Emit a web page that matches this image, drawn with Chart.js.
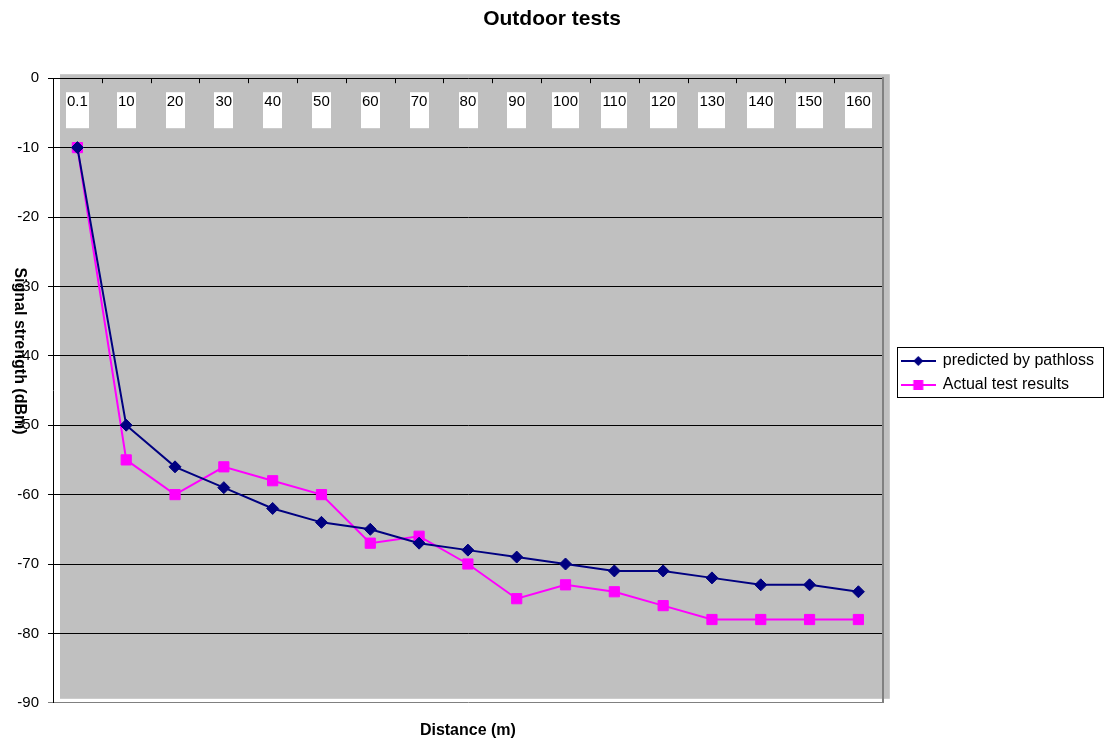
<!DOCTYPE html>
<html>
<head>
<meta charset="utf-8">
<title>Outdoor tests</title>
<script src="https://cdn.jsdelivr.net/npm/chart.js@4.4.1/dist/chart.umd.min.js"></script>
<style>
  html, body { margin: 0; padding: 0; background: #fff; }
  canvas { display: block; }
</style>
</head>
<body>
<canvas id="outdoorChart" width="1104" height="746"></canvas>
<script>
// distances in metres (category labels)
const distances = ["0.1", "10", "20", "30", "40", "50", "60", "70", "80", "90", "100", "110", "120", "130", "140", "150", "160"];
// signal strength in dBm
const predicted = [-10, -50, -56, -59, -62, -64, -65, -67, -68, -69, -70, -71, -71, -72, -73, -73, -74];
const actual = [-10, -55, -60, -56, -58, -60, -67, -66, -70, -75, -73, -74, -76, -78, -78, -78, -78];
const yTicks = { min: -90, max: 0, step: 10 };

const FONT = "'Liberation Sans', Arial, sans-serif";
const NAVY = "#000080";
const MAGENTA = "#FF00FF";

// little line + marker pictures for the legend, like Excel does
function legendIcon(color, shape) {
    const c = document.createElement("canvas");
    c.width = 35;
    c.height = 14;
    const g = c.getContext("2d");
    g.strokeStyle = color;
    g.lineWidth = 2;
    g.beginPath();
    g.moveTo(0, 7);
    g.lineTo(35, 7);
    g.stroke();
    g.fillStyle = color;
    g.beginPath();
    if (shape === "diamond") {
        g.moveTo(17.5, 2);
        g.lineTo(22.5, 7);
        g.lineTo(17.5, 12);
        g.lineTo(12.5, 7);
        g.closePath();
    } else {
        g.rect(12.5, 2, 10, 10);
    }
    g.fill();
    return c;
}
const legendIcons = [legendIcon(NAVY, "diamond"), legendIcon(MAGENTA, "square")];

// gray plot area, sitting a bit off the axes
const plotBackground = {
    id: "plotBackground",
    beforeDraw(chart) {
        const { ctx, chartArea: a } = chart;
        ctx.save();
        ctx.fillStyle = "#C0C0C0";
        ctx.fillRect(a.left + 7, a.top - 4, a.right - a.left, a.bottom - a.top);
        ctx.restore();
    }
};

// category labels in white boxes just under the top axis, plus the small ticks
const topCategories = {
    id: "topCategories",
    beforeDatasetsDraw(chart) {
        const { ctx, chartArea: a, scales } = chart;
        const x = scales.x;
        const half = (x.getPixelForValue(1) - x.getPixelForValue(0)) / 2;
        ctx.save();
        ctx.strokeStyle = "#000";
        ctx.lineWidth = 1;
        for (let i = 1; i < distances.length; i++) {
            const bx = Math.round(x.getPixelForValue(i) - half) + 0.5;
            ctx.beginPath();
            ctx.moveTo(bx, a.top);
            ctx.lineTo(bx, a.top + 5);
            ctx.stroke();
        }
        ctx.font = "15px " + FONT;
        ctx.textAlign = "center";
        ctx.textBaseline = "middle";
        distances.forEach((label, i) => {
            const cx = x.getPixelForValue(i);
            const w = ctx.measureText(label).width + 2;
            ctx.fillStyle = "#fff";
            ctx.fillRect(Math.round(cx - w / 2), a.top + 14, Math.round(w), 36);
            ctx.fillStyle = "#000";
            ctx.fillText(label, cx, a.top + 24);
        });
        ctx.restore();
    }
};

// y title reads top to bottom in the original
const yTitle = {
    id: "yTitle",
    afterDraw(chart) {
        const { ctx } = chart;
        ctx.save();
        ctx.translate(19, 351);
        ctx.rotate(Math.PI / 2);
        ctx.font = "bold 16px " + FONT;
        ctx.fillStyle = "#000";
        ctx.textAlign = "center";
        ctx.textBaseline = "middle";
        ctx.fillText("Signal strength (dBm)", 0, 0);
        ctx.restore();
    }
};

// box round the legend
const legendFrame = {
    id: "legendFrame",
    afterDraw(chart) {
        const boxes = chart.legend && chart.legend.legendHitBoxes;
        if (!boxes || !boxes.length) return;
        const left = boxes[0].left - 5;
        const top = boxes[0].top - 6.5;
        const last = boxes[boxes.length - 1];
        const right = Math.min(Math.max(...boxes.map(b => b.left + b.width)) + 9, chart.width - 1);
        const bottom = last.top + last.height + 3.5;
        const ctx = chart.ctx;
        ctx.save();
        ctx.strokeStyle = "#000";
        ctx.lineWidth = 1;
        ctx.strokeRect(Math.round(left) + 0.5, Math.round(top) + 0.5, Math.round(right - left), Math.round(bottom - top));
        ctx.restore();
    }
};

new Chart(document.getElementById("outdoorChart"), {
    type: "line",
    data: {
        labels: distances,
        datasets: [
            {
                label: "predicted by pathloss",
                data: predicted,
                borderColor: NAVY,
                backgroundColor: NAVY,
                borderWidth: 2,
                pointStyle: "rectRot",
                pointRadius: 6,
                pointBorderWidth: 1,
                tension: 0
            },
            {
                label: "Actual test results",
                data: actual,
                borderColor: MAGENTA,
                backgroundColor: MAGENTA,
                borderWidth: 2,
                pointStyle: "rect",
                pointRadius: 7.2,
                pointBorderWidth: 1,
                tension: 0
            }
        ]
    },
    options: {
        responsive: false,
        animation: false,
        devicePixelRatio: 1,
        layout: { padding: 0 },
        plugins: {
            title: {
                display: true,
                text: "Outdoor tests",
                color: "#000",
                font: { family: FONT, size: 21, weight: "bold" },
                padding: { top: 7, bottom: 46 }
            },
            legend: {
                position: "right",
                maxWidth: 260,
                labels: {
                    usePointStyle: true,
                    pointStyleWidth: 33,
                    padding: 8,
                    color: "#000",
                    font: { family: FONT, size: 16 },
                    generateLabels: chart => {
                        const items = Chart.defaults.plugins.legend.labels.generateLabels(chart);
                        items.forEach((item, i) => { item.pointStyle = legendIcons[i]; });
                        return items;
                    }
                }
            },
            tooltip: { enabled: false }
        },
        scales: {
            x: {
                offset: true,
                grid: { display: false, drawTicks: false },
                border: { display: false },
                ticks: { display: false },
                title: {
                    display: true,
                    text: "Distance (m)",
                    color: "#000",
                    font: { family: FONT, size: 16, weight: "bold" },
                    padding: { top: 18, bottom: 6 }
                }
            },
            y: {
                min: yTicks.min,
                max: yTicks.max,
                ticks: {
                    stepSize: yTicks.step,
                    color: "#000",
                    padding: 9,
                    font: { family: FONT, size: 15 }
                },
                grid: {
                    color: ctx => (ctx.tick && ctx.tick.value === yTicks.min ? "#808080" : "#000"),
                    lineWidth: 1,
                    tickLength: 5
                },
                border: { display: true, color: "#000", width: 1 },
                afterFit: scale => { scale.width = 53; }
            },
            y2: {
                position: "right",
                min: yTicks.min,
                max: yTicks.max,
                grid: { display: false, drawTicks: false },
                ticks: { display: false },
                border: { display: true, color: "#808080", width: 2 },
                afterFit: scale => { scale.width = 11; }
            }
        }
    },
    plugins: [plotBackground, topCategories, yTitle, legendFrame]
});
</script>
</body>
</html>
